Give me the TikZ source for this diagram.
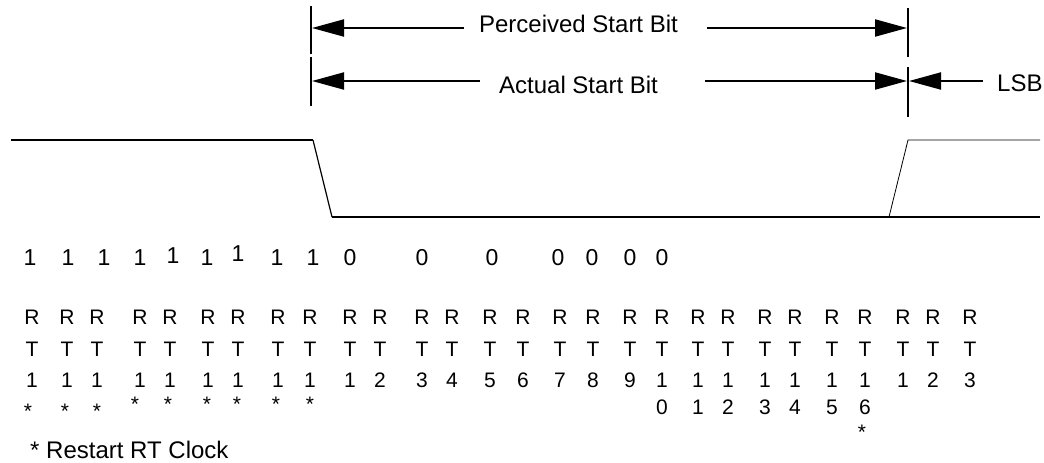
\documentclass[tikz,border=0pt]{standalone}
\usepackage{fontspec}
\setmainfont{Liberation Sans}
\usepackage{tikz}
\usetikzlibrary{arrows.meta}
\tikzset{
  lbl/.style={font=\fontsize{24}{28}\selectfont, inner sep=0pt},
  bitval/.style={font=\fontsize{23}{27}\selectfont, inner sep=0pt},
  rtcell/.style={font=\fontsize{21}{25}\selectfont, inner sep=0pt},
  restartmark/.style={font=\fontsize{21}{25}\selectfont, inner sep=0pt, yshift=-4.7pt},
  markerline/.style={line width=2pt},
  spanarrow/.style={line width=2pt, -{Triangle[length=32pt,width=17pt]}}
}

\begin{document}
\begin{tikzpicture}[x=1pt,y=-1pt]
  \useasboundingbox (0,0) rectangle (1044,463);
  \coordinate (la) at (311,6);   \coordinate (lb) at (311,54);
  \coordinate (lc) at (311,57);  \coordinate (ld) at (311,106);
  \coordinate (ra) at (908,8);   \coordinate (rb) at (908,57);
  \coordinate (rc) at (908,67);  \coordinate (rd) at (908,117);
  \draw[markerline] (la) -- (lb);
  \draw[markerline] (lc) -- (ld);
  \draw[markerline] (ra) -- (rb);
  \draw[markerline] (rc) -- (rd);
  \node[lbl] (perc) at (578.5,24) {Perceived Start Bit};
  \node[lbl] (actual) at (578.5,84.5) {Actual Start Bit};
  \node[lbl, anchor=west] (lsb) at (997,83.5) {LSB};
  \coordinate (percl) at (464,28);  \coordinate (perctipl) at (312,28);
  \coordinate (percr) at (707,28);  \coordinate (perctipr) at (907,28);
  \coordinate (actl) at (480,81);   \coordinate (acttipl) at (312,81);
  \coordinate (actr) at (705,81);   \coordinate (acttipr) at (907,81);
  \coordinate (lsbl) at (983,81);   \coordinate (lsbtip) at (909,81);
  \draw[spanarrow] (percl) -- (perctipl);
  \draw[spanarrow] (percr) -- (perctipr);
  \draw[spanarrow] (actl) -- (acttipl);
  \draw[spanarrow] (actr) -- (acttipr);
  \draw[spanarrow] (lsbl) -- (lsbtip);
  \draw[line width=2.2pt] (11,140) -- (313,140);
  \draw[line width=1.2pt] (313,140) -- (332,217);
  \draw[line width=1.5pt] (332,217) -- (1040,217);
  \draw[line width=0.8pt] (889,217) -- (908,140) -- (1040,140);
  \foreach \x/\y/\b [count=\i] in {30/258/1, 68/258/1, 104/258/1, 140/258/1, 173/256/1, 207/258/1, 238/254/1, 277/258/1, 313/258/1, 350/258/0, 422/258/0, 492/258/0, 558/258/0, 592/258/0, 630/258/0, 662/258/0} {
    \node[bitval] (b\i) at (\x,\y) {\b};
  }
  \foreach \x/\d [count=\i] in {32/1, 67/1, 97/1, 140/1, 170/1, 208/1, 238/1, 278/1, 310/1, 350/1, 380/2, 422/3, 452/4, 490/5, 523/6, 560/7, 593/8, 630/9, 662/1, 698/1, 728/1, 765/1, 795/1, 832/1, 865/1, 903/1, 933/2, 970/3} {
    \node[rtcell] (r\i) at (\x,317) {R};
    \node[rtcell] (t\i) at (\x,349) {T};
    \node[rtcell] (d\i) at (\x,380.5) {\d};
  }
  \foreach \x/\d in {662/0, 698/1, 728/2, 765/3, 795/4, 832/5, 865/6} {
    \node[rtcell] (e\d) at (\x,407.5) {\d};
  }
  \foreach \x/\y [count=\i] in {28/407, 65/407, 97/407, 135/400, 168/400, 207/400, 237/400, 276/400, 310/400, 862/428} {
    \node[restartmark] (s\i) at (\x,\y) {*};
  }
  \node[lbl, anchor=west] (note) at (30,450) {* Restart RT Clock};
\end{tikzpicture}
\end{document}
